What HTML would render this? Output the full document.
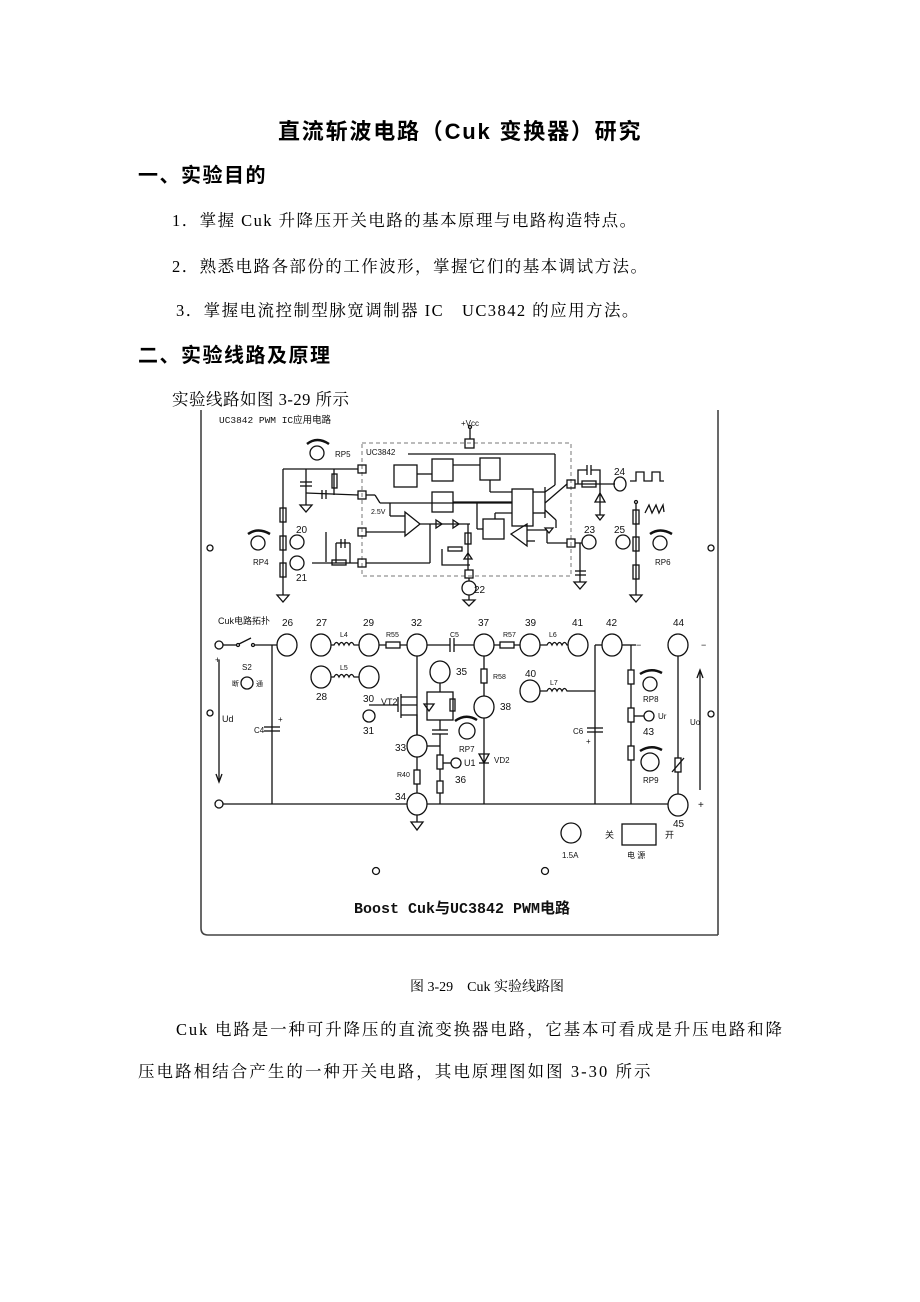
<!DOCTYPE html>
<html><head><meta charset="utf-8"><style>
html,body{margin:0;padding:0;background:#fff;}
body{width:920px;height:1302px;position:relative;overflow:hidden;font-family:"Liberation Serif","Noto Serif CJK SC","Noto Sans CJK SC",serif;color:#000;}
.t{position:absolute;white-space:nowrap;}
.h{font-family:"Liberation Sans","Noto Sans CJK SC",sans-serif;font-weight:bold;}
.p{font-size:16.5px;letter-spacing:1.45px;}
svg{position:absolute;left:0;top:0;}
</style></head><body>
<div class="t h" style="left:278px;top:114px;font-size:22px;letter-spacing:1.8px;">直流斩波电路（Cuk 变换器）研究</div>
<div class="t h" style="left:138px;top:159px;font-size:20px;letter-spacing:1.5px;">一、实验目的</div>
<div class="t p" style="left:172px;top:207px;">1．掌握 Cuk 升降压开关电路的基本原理与电路构造特点。</div>
<div class="t p" style="left:172px;top:253px;">2．熟悉电路各部份的工作波形，掌握它们的基本调试方法。</div>
<div class="t p" style="left:176px;top:297px;">3．掌握电流控制型脉宽调制器 IC　UC3842 的应用方法。</div>
<div class="t h" style="left:138px;top:339px;font-size:20px;letter-spacing:1.5px;">二、实验线路及原理</div>
<div class="t p" style="left:172px;top:386px;letter-spacing:0.5px;">实验线路如图 3-29 所示</div>
<div class="t" style="left:410px;top:976px;font-size:14px;">图 3-29　Cuk 实验线路图</div>
<div class="t p" style="left:176px;top:1016px;letter-spacing:1.85px;">Cuk 电路是一种可升降压的直流变换器电路，它基本可看成是升压电路和降</div>
<div class="t p" style="left:138px;top:1058px;letter-spacing:2.05px;">压电路相结合产生的一种开关电路，其电原理图如图 3-30 所示</div>

<svg width="920" height="1302" viewBox="0 0 920 1302" font-family="Liberation Sans, Noto Sans CJK SC, sans-serif">
<g fill="none" stroke="#111" stroke-width="1.3">
<path d="M201 410 V928 Q201 935 208 935 H718 M718 410 V935" stroke="#444" stroke-width="1.6"/>
<circle cx="210" cy="548" r="3"/><circle cx="711" cy="548" r="3"/>
<circle cx="210" cy="713" r="3"/><circle cx="711" cy="714" r="3"/>
<circle cx="376" cy="871" r="3.5"/><circle cx="545" cy="871" r="3.5"/>

<rect x="362" y="443" width="209" height="133" stroke-dasharray="4,3" stroke="#777" stroke-width="1"/>
<rect x="465" y="439" width="9" height="9"/>
<line x1="470" y1="428" x2="470" y2="439"/>
<circle cx="470" cy="427" r="1.5"/>
<line x1="408" y1="454" x2="555" y2="454"/>
<line x1="555" y1="454" x2="555" y2="485"/>
<rect x="358" y="465" width="8" height="8"/>
<rect x="358" y="491" width="8" height="8"/>
<rect x="358" y="528" width="8" height="8"/>
<rect x="358" y="559" width="8" height="8"/>
<rect x="465" y="570" width="8" height="8"/>
<rect x="567" y="539" width="8" height="8"/>
<rect x="567" y="480" width="8" height="8"/>
<rect x="394" y="465" width="23" height="22"/>
<rect x="432" y="459" width="21" height="22"/>
<rect x="480" y="458" width="20" height="22"/>
<rect x="432" y="492" width="21" height="20"/>
<rect x="512" y="489" width="21" height="37"/>
<rect x="483" y="519" width="21" height="20"/>
<path d="M405 512 L420 524 L405 536 Z"/>
<path d="M527 524 L511 534 L527 546 Z"/>
<line x1="283" y1="469" x2="358" y2="469"/>
<line x1="283" y1="469" x2="283" y2="595"/>
<rect x="280" y="508" width="6" height="14"/><rect x="280" y="563" width="6" height="14"/>
<rect x="280" y="536" width="6" height="14"/>
<line x1="306" y1="469" x2="306" y2="505"/>
<line x1="300" y1="482" x2="312" y2="482"/><line x1="300" y1="486" x2="312" y2="486"/>
<line x1="306" y1="493" x2="358" y2="495"/>
<line x1="322" y1="490" x2="322" y2="499"/><line x1="326" y1="490" x2="326" y2="499"/>
<rect x="332" y="474" width="5" height="14"/>
<line x1="334" y1="469" x2="334" y2="495"/>
<line x1="366" y1="495" x2="375" y2="495"/><line x1="375" y1="495" x2="380" y2="503"/>
<line x1="380" y1="503" x2="512" y2="503"/>
<line x1="390" y1="503" x2="390" y2="516"/><line x1="390" y1="516" x2="405" y2="516"/>
<line x1="366" y1="532" x2="405" y2="532"/>
<line x1="326" y1="532" x2="326" y2="562"/>
<line x1="336" y1="543" x2="350" y2="543"/><line x1="336" y1="543" x2="336" y2="563"/><line x1="350" y1="543" x2="350" y2="563"/>
<line x1="341" y1="539" x2="341" y2="548"/><line x1="345" y1="539" x2="345" y2="548"/>
<line x1="312" y1="563" x2="358" y2="563"/>
<rect x="332" y="560" width="14" height="5"/>
<line x1="366" y1="563" x2="430" y2="563"/><line x1="430" y1="563" x2="430" y2="524"/>
<line x1="420" y1="524" x2="470" y2="524"/>
<path d="M436 520 L442 524 L436 528 Z"/><path d="M453 520 L459 524 L453 528 Z"/>
<line x1="468" y1="524" x2="468" y2="570"/>
<rect x="465" y="533" width="6" height="11"/>
<rect x="448" y="547" width="14" height="4"/>
<path d="M442 549 V565 H470"/>
<path d="M464 559 L472 559 L468 553 Z"/>
<line x1="453" y1="465" x2="480" y2="465"/>
<line x1="417" y1="474" x2="432" y2="474"/>
<line x1="490" y1="480" x2="490" y2="492"/><line x1="490" y1="492" x2="512" y2="492"/>
<line x1="453" y1="502" x2="512" y2="502"/>
<line x1="477" y1="503" x2="477" y2="529"/><line x1="477" y1="529" x2="483" y2="529"/>
<line x1="495" y1="519" x2="495" y2="513"/><line x1="495" y1="513" x2="512" y2="513"/>
<line x1="527" y1="530" x2="547" y2="530"/><line x1="547" y1="530" x2="547" y2="543"/><line x1="547" y1="543" x2="567" y2="543"/>
<line x1="527" y1="541" x2="535" y2="541"/>
<line x1="533" y1="492" x2="545" y2="492"/><line x1="533" y1="513" x2="545" y2="513"/>
<line x1="545" y1="487" x2="545" y2="518"/>
<line x1="545" y1="492" x2="555" y2="485"/><line x1="545" y1="503" x2="567" y2="484"/>
<line x1="545" y1="510" x2="556" y2="520"/><line x1="556" y1="520" x2="556" y2="528"/>
<line x1="575" y1="484" x2="615" y2="484"/>
<rect x="582" y="481" width="14" height="6"/>
<path d="M578 484 V470 H587 M591 470 H600 V484"/>
<line x1="587" y1="465" x2="587" y2="475"/><line x1="591" y1="465" x2="591" y2="475"/>
<line x1="600" y1="484" x2="600" y2="515"/>
<path d="M595 502 L605 502 L600 493 Z"/>
<line x1="575" y1="543" x2="582" y2="543"/>
<line x1="580" y1="543" x2="580" y2="575"/>
<line x1="575" y1="571" x2="586" y2="571"/><line x1="575" y1="575" x2="586" y2="575"/>
<line x1="580" y1="575" x2="580" y2="582"/>
<line x1="636" y1="503" x2="636" y2="595"/>
<rect x="633" y="510" width="6" height="14"/><rect x="633" y="565" width="6" height="14"/>
<rect x="633" y="537" width="6" height="14"/>
<circle cx="636" cy="502" r="1.5"/>
<path d="M645 513 L649 505 L652 513 L656 505 L659 513 L663 505 L664 512"/>
<path d="M630 481 H636 V472 H644 V481 H652 V472 H660 V481 H664"/>
<path d="M300 505 H312 L306 512 Z"/><path d="M277 595 H289 L283 602 Z"/>
<path d="M574 582 H586 L580 589 Z"/><path d="M630 595 H642 L636 602 Z"/>
<path d="M596 515 H604 L600 520 Z"/><path d="M545 528 H553 L549 533 Z"/>
<path d="M463 600 H475 L469 606 Z"/>
<ellipse cx="297" cy="542" rx="7" ry="7"/><ellipse cx="297" cy="563" rx="7" ry="7"/>
<ellipse cx="469" cy="588" rx="7" ry="7"/><line x1="469" y1="578" x2="469" y2="581"/><line x1="469" y1="595" x2="469" y2="600"/>
<ellipse cx="589" cy="542" rx="7" ry="7"/><ellipse cx="623" cy="542" rx="7" ry="7"/>
<ellipse cx="620" cy="484" rx="6" ry="7"/>
<circle cx="317" cy="453" r="7"/><circle cx="258" cy="543" r="7"/><circle cx="660" cy="543" r="7"/>
<path d="M307 444 Q317 436 329 444" stroke-width="2.5"/>
<path d="M248 534 Q258 527 270 534" stroke-width="2.5"/>
<path d="M650 534 Q660 527 672 534" stroke-width="2.5"/>

<circle cx="219" cy="645" r="4"/><circle cx="219" cy="804" r="4"/>
<line x1="223" y1="645" x2="237" y2="645"/><circle cx="238" cy="645" r="1.5"/>
<line x1="239" y1="644" x2="251" y2="638"/><circle cx="253" cy="645" r="1.5"/>
<line x1="254" y1="645" x2="277" y2="645"/>
<line x1="272" y1="645" x2="272" y2="804"/>
<line x1="264" y1="727" x2="280" y2="727"/><line x1="264" y1="731" x2="280" y2="731"/>
<line x1="223" y1="804" x2="407" y2="804"/><line x1="427" y1="804" x2="668" y2="804"/>
<line x1="219" y1="660" x2="219" y2="780"/><path d="M216 774 L219 782 L222 774"/>
<ellipse cx="287" cy="645" rx="10" ry="11"/>
<ellipse cx="321" cy="645" rx="10" ry="11"/><ellipse cx="369" cy="645" rx="10" ry="11"/>
<ellipse cx="417" cy="645" rx="10" ry="11"/><ellipse cx="484" cy="645" rx="10" ry="11"/>
<ellipse cx="530" cy="645" rx="10" ry="11"/><ellipse cx="578" cy="645" rx="10" ry="11"/>
<ellipse cx="612" cy="645" rx="10" ry="11"/><ellipse cx="678" cy="645" rx="10" ry="11"/>
<ellipse cx="321" cy="677" rx="10" ry="11"/><ellipse cx="369" cy="677" rx="10" ry="11"/>
<ellipse cx="440" cy="672" rx="10" ry="11"/><ellipse cx="484" cy="707" rx="10" ry="11"/>
<ellipse cx="530" cy="691" rx="10" ry="11"/>
<ellipse cx="417" cy="746" rx="10" ry="11"/><ellipse cx="417" cy="804" rx="10" ry="11"/>
<ellipse cx="678" cy="805" rx="10" ry="11"/>
<circle cx="369" cy="716" r="6"/><circle cx="456" cy="763" r="5"/><circle cx="247" cy="683" r="6"/>
<circle cx="467" cy="731" r="8"/><circle cx="650" cy="684" r="7"/><circle cx="650" cy="762" r="9"/>
<circle cx="649" cy="716" r="5"/>
<path d="M455 721 Q466 713 477 720" stroke-width="2.5"/>
<path d="M640 674 Q651 667 662 673" stroke-width="2.5"/>
<path d="M640 751 Q651 744 662 750" stroke-width="2.5"/>
<path d="M331 645 H334 q2.5 -5 5 0 q2.5 -5 5 0 q2.5 -5 5 0 q2.5 -5 5 0 H359"/>
<path d="M331 677 H334 q2.5 -5 5 0 q2.5 -5 5 0 q2.5 -5 5 0 q2.5 -5 5 0 H359"/>
<path d="M540 645 H547 q2.5 -5 5 0 q2.5 -5 5 0 q2.5 -5 5 0 q2.5 -5 5 0 H568"/>
<path d="M540 691 H547 q2.5 -5 5 0 q2.5 -5 5 0 q2.5 -5 5 0 q2.5 -5 5 0 H595"/>
<line x1="379" y1="645" x2="407" y2="645"/><rect x="386" y="642" width="14" height="6" fill="#fff"/>
<line x1="427" y1="645" x2="450" y2="645"/><line x1="454" y1="645" x2="474" y2="645"/>
<line x1="450" y1="638" x2="450" y2="652"/><line x1="454" y1="638" x2="454" y2="652"/>
<line x1="494" y1="645" x2="520" y2="645"/><rect x="500" y="642" width="14" height="6" fill="#fff"/>
<line x1="484" y1="656" x2="484" y2="696"/><rect x="481" y="669" width="6" height="14" fill="#fff"/>
<line x1="484" y1="718" x2="484" y2="804"/><path d="M479 754 H489 L484 763 Z"/><line x1="479" y1="763" x2="489" y2="763"/>
<line x1="417" y1="656" x2="417" y2="735"/>
<path d="M417 697 H401 M401 694 V718 M398 697 V712 M398 705 H369 M401 705 H417 M401 715 H417 V735"/>
<line x1="440" y1="683" x2="440" y2="692"/>
<rect x="427" y="692" width="26" height="28"/>
<path d="M424 704 L434 704 L429 711 Z"/><rect x="450" y="699" width="5" height="12"/>
<line x1="440" y1="720" x2="440" y2="730"/>
<line x1="432" y1="730" x2="448" y2="730"/><line x1="432" y1="734" x2="448" y2="734"/>
<line x1="440" y1="734" x2="440" y2="804"/><line x1="427" y1="746" x2="440" y2="746"/>
<rect x="437" y="755" width="6" height="14" fill="#fff"/><rect x="437" y="781" width="6" height="12" fill="#fff"/>
<line x1="443" y1="763" x2="451" y2="763"/>
<line x1="417" y1="757" x2="417" y2="793"/><rect x="414" y="770" width="6" height="14" fill="#fff"/>
<path d="M411 822 H423 L417 830 Z"/><line x1="417" y1="815" x2="417" y2="822"/>
<line x1="595" y1="645" x2="595" y2="804"/><line x1="595" y1="645" x2="602" y2="645"/>
<line x1="587" y1="728" x2="603" y2="728"/><line x1="587" y1="732" x2="603" y2="732"/>
<line x1="622" y1="645" x2="636" y2="645"/>
<line x1="631" y1="645" x2="631" y2="804"/>
<rect x="628" y="670" width="6" height="14" fill="#fff"/><rect x="628" y="708" width="6" height="14" fill="#fff"/><rect x="628" y="746" width="6" height="14" fill="#fff"/>
<line x1="634" y1="716" x2="644" y2="716"/>
<line x1="678" y1="656" x2="678" y2="794"/><rect x="675" y="758" width="6" height="14" fill="#fff"/>
<line x1="672" y1="772" x2="684" y2="758"/>
<line x1="700" y1="790" x2="700" y2="672"/><path d="M697 678 L700 670 L703 678"/>
<circle cx="571" cy="833" r="10"/><rect x="622" y="824" width="34" height="21"/>
</g>
<g fill="#111" font-size="9">
<text x="219" y="423" font-family="Liberation Mono, Noto Sans CJK SC, monospace" font-size="9.5">UC3842 PWM IC应用电路</text>
<text x="461" y="426" font-size="8">+Vcc</text>
<text x="366" y="455" font-size="8">UC3842</text>
<text x="335" y="457" font-size="8">RP5</text>
<text x="253" y="565" font-size="8">RP4</text>
<text x="655" y="565" font-size="8">RP6</text>
<text x="296" y="533" font-size="10">20</text><text x="296" y="581" font-size="10">21</text>
<text x="474" y="593" font-size="10">22</text><text x="584" y="533" font-size="10">23</text>
<text x="614" y="475" font-size="10">24</text><text x="614" y="533" font-size="10">25</text>
<text x="371" y="514" font-size="7">2.5V</text>
<text x="218" y="624" font-size="9">Cuk电路拓扑</text>
<text x="282" y="626" font-size="10">26</text><text x="316" y="626" font-size="10">27</text>
<text x="363" y="626" font-size="10">29</text><text x="411" y="626" font-size="10">32</text>
<text x="478" y="626" font-size="10">37</text><text x="525" y="626" font-size="10">39</text>
<text x="572" y="626" font-size="10">41</text><text x="606" y="626" font-size="10">42</text>
<text x="673" y="626" font-size="10">44</text>
<text x="340" y="637" font-size="7">L4</text><text x="386" y="637" font-size="7">R55</text>
<text x="450" y="637" font-size="7">C5</text><text x="503" y="637" font-size="7">R57</text>
<text x="549" y="637" font-size="7">L6</text>
<text x="340" y="670" font-size="7">L5</text><text x="550" y="685" font-size="7">L7</text>
<text x="316" y="700" font-size="10">28</text><text x="363" y="702" font-size="10">30</text>
<text x="363" y="734" font-size="10">31</text><text x="456" y="675" font-size="10">35</text>
<text x="500" y="710" font-size="10">38</text><text x="525" y="677" font-size="10">40</text>
<text x="493" y="679" font-size="7">R58</text>
<text x="381" y="705" font-size="9">VT2</text>
<text x="395" y="751" font-size="10">33</text><text x="395" y="800" font-size="10">34</text>
<text x="397" y="777" font-size="7">R40</text>
<text x="455" y="783" font-size="10">36</text><text x="464" y="766" font-size="9">U1</text>
<text x="459" y="752" font-size="8">RP7</text><text x="494" y="763" font-size="8">VD2</text>
<text x="242" y="670" font-size="8">S2</text><text x="232" y="686" font-size="7">断</text><text x="256" y="686" font-size="7">通</text>
<text x="222" y="722" font-size="9">Ud</text><text x="254" y="733" font-size="8">C4</text>
<text x="278" y="722" font-size="8">+</text><text x="215" y="663" font-size="9">+</text>
<text x="573" y="734" font-size="8">C6</text><text x="586" y="744" font-size="8">+</text>
<text x="643" y="702" font-size="8">RP8</text><text x="658" y="719" font-size="8">Ur</text>
<text x="643" y="735" font-size="10">43</text><text x="643" y="783" font-size="8">RP9</text>
<text x="690" y="725" font-size="8">Uo</text>
<text x="636" y="648" font-size="9">−</text><text x="701" y="648" font-size="9">−</text>
<text x="698" y="808" font-size="10">+</text><text x="673" y="827" font-size="10">45</text>
<text x="562" y="858" font-size="8">1.5A</text>
<text x="605" y="838" font-size="9">关</text><text x="665" y="838" font-size="9">开</text>
<text x="627" y="858" font-size="8">电 源</text>
<text x="354" y="913" font-family="Liberation Mono, Noto Sans CJK SC, monospace" font-size="15" font-weight="bold">Boost Cuk与UC3842 PWM电路</text>
</g>
</svg>
</body></html>
